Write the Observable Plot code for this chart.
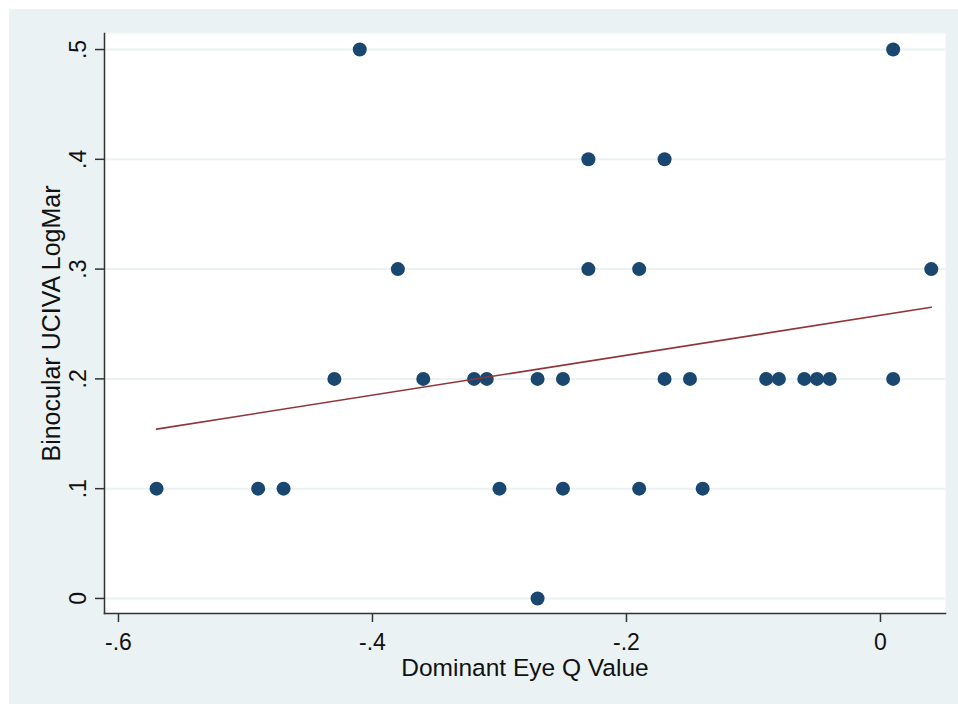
<!DOCTYPE html>
<html><head><meta charset="utf-8">
<script src="https://cdn.jsdelivr.net/npm/d3@7"></script>
<script src="https://cdn.jsdelivr.net/npm/@observablehq/plot@0.6"></script>
<style>
body{margin:0;background:#fff;}
#wrap{position:relative;width:958px;height:704px;overflow:hidden;}
#bg{position:absolute;left:9px;top:9px;width:949px;height:695px;background:#EAF2F3;}
#chart{position:absolute;left:0;top:0;}
</style></head><body>
<div id="wrap"><div id="bg"></div><div id="chart"></div></div>
<script>
const qValue = [-0.57,-0.49,-0.47,-0.43,-0.41,-0.38,-0.36,-0.32,-0.31,-0.30,-0.27,-0.27,-0.25,-0.25,-0.23,-0.23,-0.19,-0.19,-0.17,-0.17,-0.15,-0.14,-0.09,-0.08,-0.06,-0.05,-0.04,0.01,0.01,0.04];
const logMar = [0.1,0.1,0.1,0.2,0.5,0.3,0.2,0.2,0.2,0.1,0.0,0.2,0.2,0.1,0.4,0.3,0.3,0.1,0.4,0.2,0.2,0.1,0.2,0.2,0.2,0.2,0.2,0.5,0.2,0.3];
const xTicks = [-0.6,-0.4,-0.2,0];
const yTicks = [0,0.1,0.2,0.3,0.4,0.5];
const xLabel = "Dominant Eye Q Value";
const yLabel = "Binocular UCIVA LogMar";

const data = qValue.map((q,i)=>({q, v: logMar[i]}));
const fmt = d => d === 0 ? "0" : (d < 0 ? "-" : "") + Math.abs(d).toFixed(1).replace(/^0\./, ".");
const font = "'Liberation Sans', Arial, sans-serif";
const axisColor = "#333";

const plot = Plot.plot({
  width: 958, height: 704,
  marginLeft: 104, marginRight: 13, marginTop: 33, marginBottom: 91,
  style: {background: "transparent", fontFamily: font, fontSize: "24px", color: "#111"},
  x: {domain: [-0.611, 0.0512]},
  y: {domain: [-0.0137, 0.5146]},
  marks: [
    Plot.frame({fill: "white", stroke: null}),
    Plot.gridY(yTicks, {stroke: "#EAF2F3", strokeOpacity: 1, strokeWidth: 2}),
    Plot.frame({anchor: "left", stroke: axisColor, strokeWidth: 1.5}),
    Plot.frame({anchor: "bottom", stroke: axisColor, strokeWidth: 1.5}),
    Plot.axisX(xTicks, {tickSize: 9, tickPadding: 11, tickFormat: fmt, stroke: axisColor, strokeWidth: 1.5, fontSize: 23,
      label: null}),
    Plot.axisX([], {tickSize: 0, fontSize: 24.5,
      label: xLabel, labelAnchor: "center", labelArrow: "none", labelOffset: 62}),
    Plot.axisY(yTicks, {tickSize: 9, tickFormat: () => "", stroke: axisColor, strokeWidth: 1.5, fontSize: 25,
      label: yLabel, labelAnchor: "center", labelArrow: "none", labelOffset: 62}),
    Plot.text(yTicks, {y: d => d, frameAnchor: "left", dx: -19, rotate: -90, text: fmt,
      textAnchor: "middle", lineAnchor: "bottom", fill: "#111", fontSize: 23}),
    Plot.dot(data, {x: "q", y: "v", r: 7, fill: "#1A476F", stroke: null}),
    Plot.linearRegressionY(data, {x: "q", y: "v", stroke: "#90353B", strokeWidth: 1.6, ci: 0})
  ]
});
document.getElementById("chart").appendChild(plot);
</script>
</body></html>
